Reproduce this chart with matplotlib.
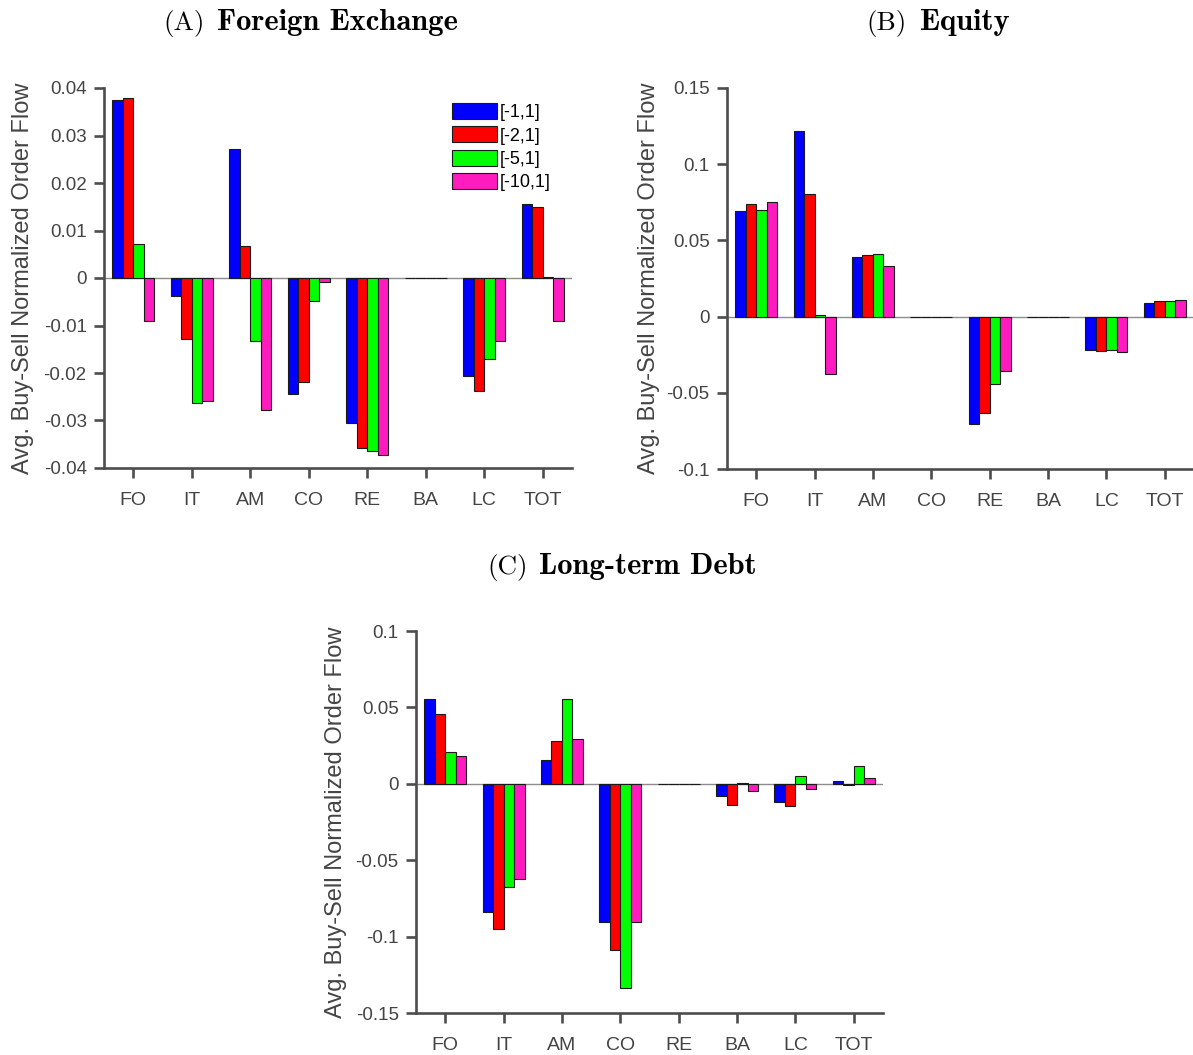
import numpy as np
import matplotlib
matplotlib.use("Agg")
import matplotlib.pyplot as plt

plt.rcParams['font.family'] = ['Liberation Sans', 'DejaVu Sans']

groups = ["FO", "IT", "AM", "CO", "RE", "BA", "LC", "TOT"]
windows = ["[-1,1]", "[-2,1]", "[-5,1]", "[-10,1]"]
colors = ["#0000ff", "#ff0000", "#00ff00", "#ff1cbf"]

# foreign exchange, one list per event window
fx_w1 = [0.0374, -0.0038, 0.0272, -0.0244, -0.0306, 0.0, -0.0206, 0.0155]
fx_w2 = [0.0378, -0.0128, 0.0068, -0.0219, -0.0358, 0.0, -0.0238, 0.0150]
fx_w5 = [0.0072, -0.0263, -0.0133, -0.0049, -0.0364, 0.0, -0.0171, 0.0003]
fx_w10 = [-0.0090, -0.0258, -0.0277, -0.0008, -0.0372, 0.0, -0.0133, -0.0091]

# equity
eq_w1 = [0.0690, 0.1216, 0.0391, 0.0, -0.0703, 0.0, -0.0218, 0.0092]
eq_w2 = [0.0738, 0.0803, 0.0406, 0.0, -0.0635, 0.0, -0.0229, 0.0100]
eq_w5 = [0.0699, 0.0009, 0.0408, 0.0, -0.0443, 0.0, -0.0216, 0.0100]
eq_w10 = [0.0755, -0.0376, 0.0330, 0.0, -0.0354, 0.0, -0.0234, 0.0109]

# long-term debt
ld_w1 = [0.0553, -0.0839, 0.0153, -0.0904, 0.0, -0.0078, -0.0122, 0.0017]
ld_w2 = [0.0460, -0.0952, 0.0281, -0.1087, 0.0, -0.0139, -0.0144, -0.0007]
ld_w5 = [0.0207, -0.0675, 0.0558, -0.1336, 0.0, 0.0002, 0.0052, 0.0115]
ld_w10 = [0.0185, -0.0623, 0.0296, -0.0904, 0.0, -0.0048, -0.0037, 0.0041]

fx_ticks = [-0.04, -0.03, -0.02, -0.01, 0, 0.01, 0.02, 0.03, 0.04]
fx_labels = ["-0.04", "-0.03", "-0.02", "-0.01", "0", "0.01", "0.02", "0.03", "0.04"]
eq_ticks = [-0.1, -0.05, 0, 0.05, 0.1, 0.15]
eq_labels = ["-0.1", "-0.05", "0", "0.05", "0.1", "0.15"]
ld_ticks = [-0.15, -0.1, -0.05, 0, 0.05, 0.1]
ld_labels = ["-0.15", "-0.1", "-0.05", "0", "0.05", "0.1"]

W, H = 1193, 1055
fig = plt.figure(figsize=(W / 100, H / 100), dpi=100)

axcol = "#4d4d4d"
txtcol = "#444444"


def panel(rect, series, ticks, labels, lab_x):
    l, t, r, b = rect
    ax = fig.add_axes([l / W, 1 - b / H, (r - l) / W, (b - t) / H])
    x = np.arange(1, len(groups) + 1)
    bw = 0.18
    bars = []
    for k, vals in enumerate(series):
        bars.append(ax.bar(x + (k - 1.5) * bw, vals, bw, color=colors[k],
                           edgecolor="#1a1a1a", linewidth=0.8, zorder=3))
    ax.axhline(0, color="#8c8c8c", lw=1.0, zorder=2)
    ax.set_xlim(0.5, 8.5)
    ax.set_ylim(ticks[0], ticks[-1])
    ax.set_xticks(x, groups)
    ax.set_yticks(ticks, labels)
    for s in ["top", "right"]:
        ax.spines[s].set_visible(False)
    for s in ["left", "bottom"]:
        ax.spines[s].set_color(axcol)
        ax.spines[s].set_linewidth(1.9)
    ax.tick_params(axis="both", direction="out", length=7.5, width=1.9,
                   color=axcol, labelcolor=txtcol)
    ax.tick_params(axis="y", labelsize=13.5, pad=5)
    ax.tick_params(axis="x", labelsize=14, pad=9.5)
    ax.set_ylabel("Avg. Buy-Sell Normalized Order Flow", fontsize=17,
                  color=txtcol, va="center")
    # label centre given in figure pixels
    ax.yaxis.set_label_coords((lab_x - l) / (r - l), 0.5)
    return ax, bars


axA, barsA = panel((104, 88, 572, 468), [fx_w1, fx_w2, fx_w5, fx_w10],
                   fx_ticks, fx_labels, 23)
axB, barsB = panel((727, 88, 1194, 469), [eq_w1, eq_w2, eq_w5, eq_w10],
                   eq_ticks, eq_labels, 649)
axC, barsC = panel((416, 631, 883, 1013), [ld_w1, ld_w2, ld_w5, ld_w10],
                   ld_ticks, ld_labels, 336)

axA.legend([b[0] for b in barsA], windows, loc="upper left",
           bbox_to_anchor=(452 / W, 1 - 103 / H), bbox_transform=fig.transFigure,
           frameon=False, fontsize=13, handlelength=2.5, handleheight=0.96,
           handletextpad=0.15, labelspacing=0.3, borderpad=0, borderaxespad=0)

# panel titles: regular tag plus bold name in Computer Modern
titles = [("(A)", "Foreign Exchange", 163, 217, 30),
          ("(B)", "Equity", 866, 920, 30),
          ("(C)", "Long-term Debt", 487, 539, 574)]
for tag, name, xt, xn, yb in titles:
    fig.text(xt / W, 1 - yb / H, tag, family="cmr10", fontsize=19.5,
             ha="left", va="baseline")
    fig.text(xn / W, 1 - yb / H, name, family="cmb10", fontsize=22,
             ha="left", va="baseline")

fig.savefig("out.png", dpi=100)
